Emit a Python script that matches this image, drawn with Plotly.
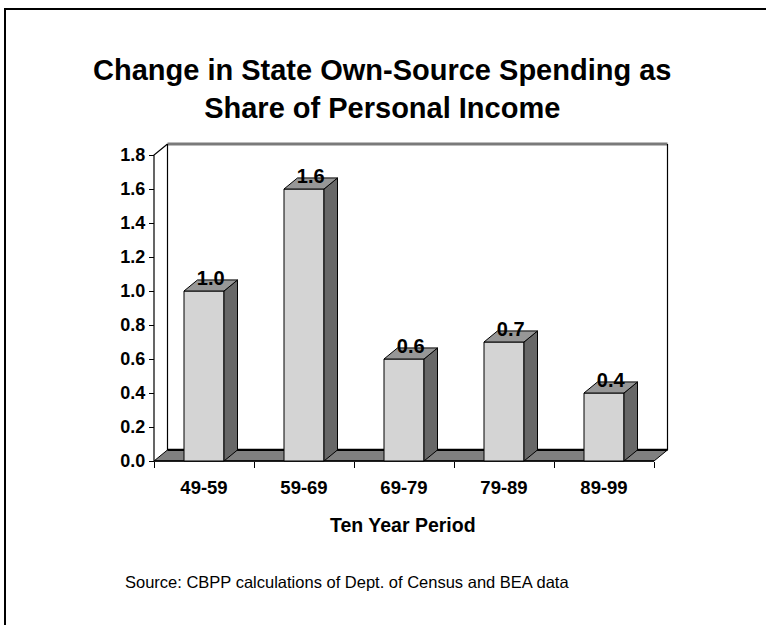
import plotly.graph_objects as go

# ---------------- data ----------------
periods = ["49-59", "59-69", "69-79", "79-89", "89-99"]
values = [1.0, 1.6, 0.6, 0.7, 0.4]
value_labels = ["1.0", "1.6", "0.6", "0.7", "0.4"]
y_tick_vals = [0.0, 0.2, 0.4, 0.6, 0.8, 1.0, 1.2, 1.4, 1.6, 1.8]
title_text = "Change in State Own-Source Spending as<br>Share of Personal Income"
x_title = "Ten Year Period"
source_text = "Source: CBPP calculations of Dept. of Census and BEA data"

# ---------------- geometry ----------------
W, H = 766, 625
PX_X = 100.0   # pixels per category
PX_Y = 170.0   # pixels per unit value
X0_PX = 154.0  # pixel of front y axis
Y0_PX = 461.0  # pixel of value 0 (front)
DX = 0.135     # depth offset (category units)
DY = 0.065     # depth offset (value units)
BAR_W = 0.4
YMAX = 1.8

ml, mr, mt, mb = 146, 94, 138, 155
pw, ph = W - ml - mr, H - mt - mb
x_lo = -0.5 - (X0_PX - ml) / PX_X
x_hi = x_lo + pw / PX_X
y_hi = (Y0_PX - mt) / PX_Y
y_lo = y_hi - ph / PX_Y

def pxx(p):
    return (p - ml) / pw

def pxy(p):
    return (H - mb - p) / ph

FONT = "Liberation Sans, Arial, sans-serif"
xs = list(range(len(periods)))
x_left = -0.5
x_right = len(periods) - 0.5

# ---------------- walls and floor (drawn below the bars) ----------------
def path(pts, close=True):
    s = "M " + " L ".join(f"{x},{y}" for x, y in pts)
    return s + (" Z" if close else "")

shapes = [
    # back wall
    dict(type="path", xref="x", yref="y", layer="below",
         path=path([(x_left + DX, DY), (x_right + DX, DY),
                    (x_right + DX, YMAX + DY), (x_left + DX, YMAX + DY)]),
         fillcolor="white", line=dict(width=0)),
    dict(type="line", xref="x", yref="y", layer="below",
         x0=x_left + DX, y0=YMAX + DY, x1=x_right + DX, y1=YMAX + DY,
         line=dict(color="#7a7a7a", width=3)),
    dict(type="line", xref="x", yref="y", layer="below",
         x0=x_left + DX, y0=DY, x1=x_left + DX, y1=YMAX + DY,
         line=dict(color="black", width=1.2)),
    dict(type="line", xref="x", yref="y", layer="below",
         x0=x_right + DX, y0=DY, x1=x_right + DX, y1=YMAX + DY,
         line=dict(color="black", width=1.2)),
    # left wall edges: front axis and top diagonal
    dict(type="path", xref="x", yref="y", layer="below",
         path=path([(x_left, 0), (x_left, YMAX), (x_left + DX, YMAX + DY)],
                   close=False),
         line=dict(color="black", width=1.2)),
    # floor
    dict(type="path", xref="x", yref="y", layer="below",
         path=path([(x_left, 0), (x_right, 0), (x_right + DX, DY),
                    (x_left + DX, DY)]),
         fillcolor="#808080", line=dict(color="black", width=1)),
    dict(type="line", xref="x", yref="y", layer="below",
         x0=x_left + DX, y0=DY, x1=x_right + DX, y1=DY,
         line=dict(color="black", width=2.2)),
    dict(type="line", xref="x", yref="y", layer="below",
         x0=x_left, y0=0, x1=x_right, y1=0,
         line=dict(color="black", width=1.5)),
    # outer frame
    dict(type="rect", xref="paper", yref="paper",
         x0=pxx(5), y0=pxy(H + 20), x1=pxx(W + 20), y1=pxy(9),
         line=dict(color="black", width=2), fillcolor="rgba(0,0,0,0)",
         layer="above"),
]

traces = []

# front faces of the bars
traces.append(go.Bar(
    x=xs, y=values, width=BAR_W,
    marker=dict(color="#d4d4d4", line=dict(color="black", width=1)),
    hoverinfo="skip"))

# bar side faces and top faces (computed from values)
sx, sy, tx, ty = [], [], [], []
for xc, v in zip(xs, values):
    r = xc + BAR_W / 2
    l = xc - BAR_W / 2
    sx += [r, r + DX, r + DX, r, r, None]
    sy += [0, DY, v + DY, v, 0, None]
    tx += [l, r, r + DX, l + DX, l, None]
    ty += [v, v, v + DY, v + DY, v, None]
traces.append(go.Scatter(x=sx, y=sy, fill="toself", fillcolor="#686868",
                         mode="lines", line=dict(color="black", width=1),
                         hoverinfo="skip"))
traces.append(go.Scatter(x=tx, y=ty, fill="toself", fillcolor="#979797",
                         mode="lines", line=dict(color="black", width=1),
                         hoverinfo="skip"))

# data labels
traces.append(go.Scatter(
    x=[xc + DX / 2 for xc in xs], y=[v + DY for v in values],
    mode="text", text=value_labels, textposition="middle center",
    textfont=dict(family=FONT, size=20, color="black", weight="bold"),
    cliponaxis=False, hoverinfo="skip"))

fig = go.Figure(traces)

fig.update_layout(
    width=W, height=H,
    margin=dict(l=ml, r=mr, t=mt, b=mb, autoexpand=False),
    paper_bgcolor="white", plot_bgcolor="white",
    showlegend=False,
    xaxis=dict(
        range=[x_lo, x_hi], anchor="free", position=pxy(Y0_PX),
        tickmode="array", tickvals=xs, ticktext=periods, ticks="",
        showgrid=False, zeroline=False, showline=False,
        tickfont=dict(family=FONT, size=18.5, color="black", weight="bold"),
        minor=dict(tickmode="array", tickvals=[x + 0.5 for x in [-1] + xs],
                   ticks="outside", ticklen=6, tickcolor="black", tickwidth=1,
                   showgrid=False),
        ticklabelstandoff=13, fixedrange=True),
    yaxis=dict(
        range=[y_lo, y_hi], anchor="free", position=pxx(X0_PX),
        tickmode="array", tickvals=y_tick_vals,
        ticktext=[f"{v:.1f}" for v in y_tick_vals],
        ticks="outside", ticklen=5, tickcolor="black", tickwidth=1,
        showgrid=False, zeroline=False, showline=False,
        tickfont=dict(family=FONT, size=18, color="black", weight="bold"),
        fixedrange=True),
    annotations=[
        dict(text="<b>" + title_text + "</b>", xref="paper", yref="paper",
             x=pxx(382), y=pxy(89), xanchor="center", yanchor="middle",
             showarrow=False,
             font=dict(family=FONT, size=29, color="black")),
        dict(text="<b>" + x_title + "</b>", xref="paper", yref="paper",
             x=pxx(403), y=pxy(525), xanchor="center", yanchor="middle",
             showarrow=False,
             font=dict(family=FONT, size=19.5, color="black")),
        dict(text=source_text, xref="paper", yref="paper",
             x=pxx(347), y=pxy(582), xanchor="center", yanchor="middle",
             showarrow=False,
             font=dict(family=FONT, size=16.5, color="black")),
    ],
    shapes=shapes,
)

fig.write_html("out.html", config={"displayModeBar": False})
